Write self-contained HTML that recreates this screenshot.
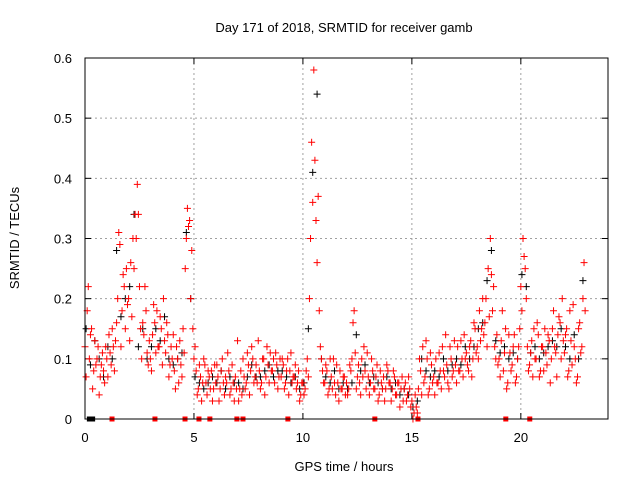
<!DOCTYPE html>
<html><head><meta charset="utf-8"><style>
body{margin:0;background:#fff}
svg text{font-family:"Liberation Sans","DejaVu Sans",sans-serif;font-size:13px;fill:#000}
</style></head><body>
<svg id="chart" width="640" height="480" xmlns="http://www.w3.org/2000/svg">
<rect width="640" height="480" fill="#fff"/>
<text x="344" y="32" text-anchor="middle">Day 171 of 2018, SRMTID for receiver gamb</text>
<text x="344" y="471" text-anchor="middle">GPS time / hours</text>
<text transform="translate(19,238) rotate(-90)" text-anchor="middle">SRMTID / TECUs</text>
<g id="grid"></g><g id="ticks"></g><g id="black"></g><g id="red"></g>
<rect x="85" y="58" width="523" height="361" fill="none" stroke="#000"/>
</svg>
<script>
const xTicks=[0,5,10,15,20];
const yTicks=[0,0.1,0.2,0.3,0.4,0.5,0.6];
const redA=[
[0.12,0.18,0.1,0.15,0.08,0.09,0.12,0.07,0.11,0.06],
[0.1,0.14,0.09,0.12,0.13,0.2,0.29,0.18,0.22,0.25],
[0.2,0.26,0.3,0.34,0.39,0.22,0.1,0.14,0.18,0.09],
[0.1,0.14,0.16,0.18,0.12,0.15,0.2,0.11,0.14,0.09],
[0.1,0.08,0.12,0.06,0.09,0.15,0.25,0.35,0.33,0.28],
[0.1,0.08,0.05,0.07,0.06,0.09,0.04,0.07,0.08,0.05],
[0.06,0.07,0.05,0.1,0.04,0.06,0.08,0.05,0.06,0.07],
[0.13,0.05,0.04,0.07,0.06,0.09,0.08,0.1,0.07,0.06],
[0.08,0.06,0.1,0.07,0.09,0.11,0.08,0.06,0.09,0.07],
[0.07,0.09,0.06,0.1,0.08,0.06,0.07,0.05,0.08,0.04],
[0.06,0.05,0.1,0.2,0.46,0.58,0.33,0.37,0.12,0.08],
[0.06,0.08,0.05,0.07,0.1,0.04,0.06,0.08,0.05,0.07],
[0.06,0.05,0.08,0.16,0.11,0.07,0.06,0.1,0.12,0.05],
[0.07,0.06,0.08,0.05,0.09,0.04,0.06,0.07,0.05,0.08],
[0.06,0.05,0.07,0.04,0.06,0.05,0.03,0.06,0.04,0.05],
[0.03,0.01,0.02,0.05,0.08,0.12,0.07,0.1,0.05,0.09],
[0.07,0.1,0.06,0.08,0.12,0.07,0.09,0.05,0.1,0.08],
[0.09,0.12,0.08,0.1,0.14,0.11,0.08,0.13,0.1,0.15],
[0.12,0.18,0.15,0.14,0.2,0.25,0.3,0.18,0.12,0.14],
[0.1,0.13,0.08,0.15,0.06,0.11,0.09,0.14,0.07,0.12],
[0.22,0.3,0.25,0.12,0.09,0.13,0.15,0.1,0.14,0.08],
[0.12,0.15,0.09,0.13,0.1,0.18,0.11,0.14,0.16,0.2],
[0.11,0.15,0.08,0.13,0.19,0.1,0.07,0.16,0.12,0.26]];
const redB=[
[0.07,0.22,0.14,0.05,0.13,0.1,0.04,0.09,0.08,0.12],
[0.07,0.11,0.15,0.08,0.16,0.31,0.12,0.24,0.15,0.19],
[0.13,0.17,0.25,0.3,0.34,0.15,0.16,0.22,0.11,0.13],
[0.08,0.19,0.11,0.12,0.17,0.09,0.13,0.16,0.07,0.12],
[0.14,0.05,0.1,0.13,0.07,0.11,0.3,0.32,0.2,0.15],
[0.12,0.04,0.09,0.03,0.1,0.06,0.08,0.05,0.03,0.09],
[0.09,0.03,0.08,0.06,0.07,0.11,0.04,0.09,0.03,0.05],
[0.03,0.08,0.1,0.05,0.11,0.04,0.12,0.06,0.09,0.13],
[0.05,0.1,0.04,0.12,0.06,0.08,0.1,0.11,0.05,0.1],
[0.1,0.05,0.08,0.04,0.11,0.07,0.09,0.06,0.03,0.06],
[0.04,0.08,0.07,0.3,0.36,0.43,0.26,0.18,0.1,0.06],
[0.09,0.04,0.1,0.05,0.06,0.09,0.03,0.05,0.07,0.04],
[0.04,0.09,0.1,0.18,0.05,0.09,0.04,0.07,0.08,0.11],
[0.04,0.1,0.05,0.07,0.03,0.08,0.05,0.03,0.09,0.06],
[0.03,0.08,0.04,0.06,0.02,0.07,0.05,0.03,0.07,0.02],
[0.0,0.04,0.01,0.1,0.04,0.06,0.13,0.04,0.11,0.06],
[0.04,0.06,0.11,0.05,0.08,0.14,0.06,0.12,0.07,0.13],
[0.06,0.08,0.13,0.07,0.1,0.09,0.12,0.07,0.16,0.11],
[0.1,0.13,0.2,0.16,0.12,0.17,0.24,0.22,0.1,0.09],
[0.07,0.18,0.11,0.05,0.14,0.08,0.12,0.06,0.1,0.15],
[0.18,0.27,0.2,0.08,0.11,0.07,0.1,0.16,0.07,0.12],
[0.08,0.11,0.14,0.06,0.15,0.12,0.07,0.17,0.1,0.13],
[0.14,0.07,0.18,0.09,0.12,0.06,0.15,0.11,0.2,0.18]];
const blackV=[
[0.15,0.09,0.13,0.1,0.07],[0.12,0.1,0.28,0.17,0.2],[0.22,0.34,0.12,0.15,0.1],
[0.12,0.15,0.13,0.17,0.1],[0.09,0.1,0.11,0.31,0.2],[0.07,0.06,0.05,0.06,0.07],
[0.06,0.08,0.05,0.07,0.06],[0.06,0.05,0.07,0.09,0.07],[0.07,0.08,0.09,0.07,0.08],
[0.08,0.07,0.06,0.07,0.05],[0.06,0.15,0.41,0.54,0.1],[0.07,0.06,0.08,0.05,0.06],
[0.05,0.06,0.14,0.08,0.09],[0.06,0.07,0.06,0.05,0.07],[0.05,0.06,0.04,0.05,0.04],
[0.02,0.03,0.1,0.08,0.07],[0.08,0.07,0.1,0.08,0.09],[0.1,0.09,0.12,0.1,0.12],
[0.15,0.16,0.23,0.28,0.13],[0.11,0.12,0.1,0.11,0.1],[0.24,0.22,0.11,0.12,0.1],
[0.11,0.12,0.13,0.12,0.15],[0.12,0.1,0.14,0.1,0.23]];
const redZeros=[1.24,3.21,4.59,5.23,5.73,6.97,7.25,9.31,13.3,15.28,19.31,20.41];
const blackZeros=[0.2,0.35];
const NS='http://www.w3.org/2000/svg';
const X=h=>85+h*(523/24), Y=v=>419-v*(361/0.6);
function mk(tag,attrs,parent){const e=document.createElementNS(NS,tag);for(const k in attrs)e.setAttribute(k,attrs[k]);parent.appendChild(e);return e;}
const grid=document.getElementById('grid'),ticks=document.getElementById('ticks');
yTicks.forEach(v=>{
 if(v>0&&v<0.6){const l=mk('line',{x1:85,x2:608,y1:Y(v),y2:Y(v),stroke:'#a0a0a0','stroke-dasharray':'2,3'},grid);
 
 }
 mk('line',{x1:85,x2:91,y1:Y(v),y2:Y(v),stroke:'#000'},ticks);
 mk('line',{x1:602,x2:608,y1:Y(v),y2:Y(v),stroke:'#000'},ticks);
 const t=mk('text',{x:72,y:Y(v)+5,'text-anchor':'end'},ticks);t.textContent=v===0?'0':v.toString();
 
 
});
xTicks.forEach(h=>{
 if(h>0){const l=mk('line',{x1:X(h),x2:X(h),y1:58,y2:419,stroke:'#a0a0a0','stroke-dasharray':'2,3'},grid);
 
 }
 mk('line',{x1:X(h),x2:X(h),y1:419,y2:413,stroke:'#000'},ticks);
 mk('line',{x1:X(h),x2:X(h),y1:58,y2:64,stroke:'#000'},ticks);
 const t=mk('text',{x:X(h),y:442,'text-anchor':'middle'},ticks);t.textContent=h;
 
 
});
function plus(g,h,v,c){const x=X(h),y=Y(v);
 const p=mk('path',{d:`M${x-3.5} ${y}h7M${x} ${y-3.5}v7`,stroke:c,'stroke-width':1},g);
 
 }
function zsq(g,h,c){
 const r=mk('rect',{x:X(h)-2.5,y:Y(0)-2.5,width:5,height:5,fill:c},g);
 
 }
const bg=document.getElementById('black'),rg=document.getElementById('red');
blackV.forEach((row,h)=>row.forEach((v,i)=>plus(bg,h+i*0.2+0.05,v,'#000')));
blackZeros.forEach(h=>zsq(bg,h,'#000'));
redA.forEach((row,h)=>row.forEach((v,i)=>plus(rg,h+i*0.1,v,'#f00')));
redB.forEach((row,h)=>row.forEach((v,i)=>plus(rg,h+i*0.1+0.05,v,'#f00')));
redZeros.forEach(h=>zsq(rg,h,'#f00'));
</script>
</body></html>
